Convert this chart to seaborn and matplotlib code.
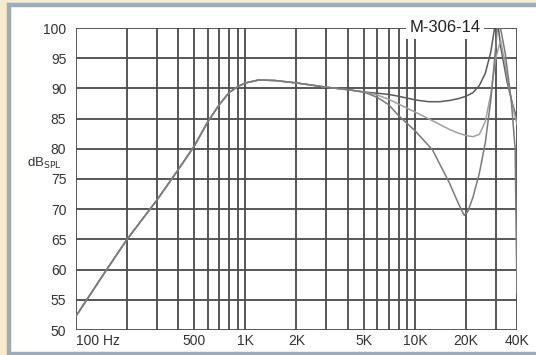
import numpy as np
import pandas as pd
import matplotlib
matplotlib.use("Agg")
import matplotlib.pyplot as plt
from matplotlib.patches import Rectangle
import seaborn as sns

# ---- data ----
freq_low = [100, 150, 200, 300, 400, 500, 600, 700, 800, 900, 1000, 1200,
            1500, 2000, 3000, 4000, 5000]
db_low = [52.3, 59.8, 65.0, 71.5, 76.5, 80.5, 84.5, 87.3, 89.3, 90.3, 90.9, 91.4,
          91.3, 90.9, 90.2, 89.8, 89.4]

freq_top = [6000, 7000, 8000, 10000, 12000, 14000, 16000, 18000, 20000, 22000,
            24000, 26000, 28000, 29500, 30500, 32000, 35000, 38000, 40000]
db_top = [89.2, 89.0, 88.7, 88.1, 87.8, 87.8, 88.0, 88.3, 88.7, 89.3, 90.5, 92.5,
          96.0, 100.0, 102.0, 97.0, 91.0, 87.0, 85.0]

freq_mid = [6000, 7000, 8000, 10000, 13000, 16000, 18000, 20000, 22000, 24000,
            26000, 28000, 30000, 32000, 34000, 37000, 40000]
db_mid = [88.9, 88.2, 87.4, 86.1, 84.5, 83.2, 82.6, 82.2, 82.0, 82.4, 84.5, 89.0,
          95.0, 98.0, 94.0, 88.0, 84.0]

freq_bot = [6000, 7000, 8000, 10000, 12700, 16000, 18000, 19500, 20500, 22000,
            24000, 26000, 28000, 30000, 31000, 34000, 37000, 39000, 40000]
db_bot = [88.5, 87.3, 85.5, 83.0, 79.8, 74.3, 71.0, 69.0, 69.6, 72.0, 76.0, 81.0,
          88.0, 97.0, 102.0, 96.0, 88.0, 80.0, 56.0]

curve_names = ["top", "middle", "bottom"]
curve_colors = ["#5a5a5a", "#a0a0a0", "#7a7a7a"]

x_major = [100, 500, 1000, 2000, 5000, 10000, 20000, 40000]
x_major_labels = ["100 Hz", "500", "1K", "2K", "5K", "10K", "20K", "40K"]
x_minor = [200, 300, 400, 600, 700, 800, 900, 3000, 4000, 6000, 7000, 8000, 9000,
           30000]
y_ticks = [50, 55, 60, 65, 70, 75, 80, 85, 90, 95, 100]

title_text = "M-306-14"

# ---- build long-form table ----
rows = []
for name, ft, dt in zip(curve_names, [freq_top, freq_mid, freq_bot],
                        [db_top, db_mid, db_bot]):
    for f, d in zip(freq_low + ft, db_low + dt):
        rows.append({"freq": f, "db": d, "curve": name})
df = pd.DataFrame(rows)

sns.set_style("white")
plt.rcParams["font.family"] = ["Liberation Sans", "DejaVu Sans"]

W, H = 536, 355
fig = plt.figure(figsize=(W / 100, H / 100), dpi=100, facecolor="#f6eccd")

# frame: gray-blue border with white panel (behind the axes)
fig.patches.append(Rectangle((8.5 / W, 1 - 353.5 / H), 1.05, (353.5 - 5) / H,
                             transform=fig.transFigure, facecolor="white",
                             edgecolor="#9eabb8", linewidth=3.2, zorder=-10))

ax = fig.add_axes([76 / W, 1 - 330 / H, (517 - 76) / W, (330 - 28) / H])
ax.set_zorder(1)
ax.set_facecolor("white")
ax.set_xscale("log")
ax.set_xlim(100, 40000)
ax.set_ylim(50, 100)

sns.lineplot(data=df, x="freq", y="db", hue="curve", hue_order=curve_names,
             palette=curve_colors, estimator=None, sort=False, legend=False,
             linewidth=1.1, ax=ax, zorder=3)

ax.set_xticks(x_major)
ax.set_xticklabels(x_major_labels)
ax.set_xticks(x_minor, minor=True)
ax.xaxis.set_minor_formatter(matplotlib.ticker.NullFormatter())
ax.set_yticks(y_ticks)
ax.set_yticklabels([str(v) for v in y_ticks])

grid_kw = dict(color="#4a4a4a", linewidth=1.3)
ax.grid(True, which="major", axis="both", **grid_kw)
ax.grid(True, which="minor", axis="x", **grid_kw)
ax.set_axisbelow(True)
for s in ax.spines.values():
    s.set_visible(False)

ax.tick_params(axis="x", which="both", length=0, pad=3, labelsize=10,
               labelcolor="#333333")
ax.tick_params(axis="y", which="major", length=4, width=1.2, color="#4a4a4a",
               pad=3, labelsize=10, labelcolor="#333333")
ax.get_xticklabels()[0].set_horizontalalignment("left")

ax.set_xlabel("")
ax.set_ylabel("")

ax.annotate(r"dB$_{\mathrm{SPL}}$", xy=(-0.032, 77.6),
            xycoords=("axes fraction", "data"), ha="right", va="center",
            fontsize=9.5, color="#333333", annotation_clip=False)

ax.text(15000, 100, title_text, ha="center", va="center", fontsize=12,
        color="#222222", zorder=5, clip_on=False,
        bbox=dict(facecolor="white", edgecolor="none", pad=2.5))

fig.savefig("out.png", dpi=100, facecolor=fig.get_facecolor())
